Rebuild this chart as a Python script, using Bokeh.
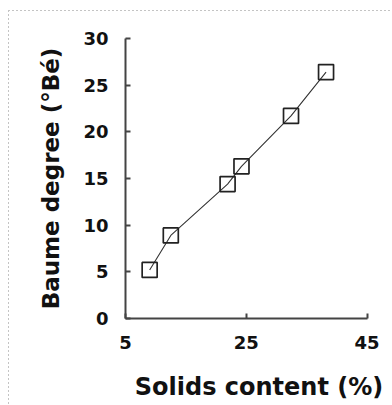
from bokeh.plotting import figure
from bokeh.models import FixedTicker, Range1d, InlineStyleSheet
from bokeh.embed import file_html
from bokeh.resources import INLINE

# Data
solids = [9.0, 12.5, 21.9, 24.2, 32.4, 38.2]      # Solids content (%)
baume = [5.2, 8.9, 14.4, 16.3, 21.7, 26.4]        # Baume degree (°Bé)
x_ticks = [5, 25, 45]
y_ticks = [0, 5, 10, 15, 20, 25, 30]

FONT = "DejaVu Sans"

css = InlineStyleSheet(css="""
:host::after {
  content: "";
  position: absolute;
  left: 8px; top: 10px; width: 384px; height: 395px;
  pointer-events: none;
  z-index: 100;
  background-image: linear-gradient(to right, #c4c4c4 2px, transparent 2px),
                    linear-gradient(to bottom, #c4c4c4 2px, transparent 2px);
  background-size: 4px 1px, 1px 4px;
  background-repeat: repeat-x, repeat-y;
  background-position: 0 0, 0 0;
}
""")

p = figure(width=392, height=405, output_backend="svg", toolbar_location=None,
           x_range=Range1d(5, 49.2), y_range=Range1d(0, 30),
           min_border_left=125, min_border_right=0,
           min_border_top=38, min_border_bottom=87)
p.stylesheets = [css]

p.outline_line_color = None
p.xgrid.visible = False
p.ygrid.visible = False

p.line(solids, baume, line_color="#333333", line_width=1.1)
p.scatter(solids, baume, marker="square", size=15, fill_color=None,
          line_color="#222222", line_width=1.7)

for ax in (p.xaxis[0], p.yaxis[0]):
    ax.axis_line_color = "#444444"
    ax.axis_line_width = 2
    ax.major_tick_line_color = "#444444"
    ax.major_tick_line_width = 2
    ax.major_tick_in = 5
    ax.major_tick_out = 0
    ax.minor_tick_line_color = None
    ax.major_label_text_font = FONT
    ax.major_label_text_font_style = "bold"
    ax.major_label_text_font_size = "18px"
    ax.major_label_text_color = "#111111"
    ax.axis_label_text_font = FONT
    ax.axis_label_text_font_style = "bold"
    ax.axis_label_text_color = "#111111"

p.xaxis.ticker = FixedTicker(ticks=x_ticks)
p.yaxis.ticker = FixedTicker(ticks=y_ticks)
p.xaxis.bounds = (5, 45)

p.xaxis.axis_label = "Solids content (%)"
p.xaxis.axis_label_text_font_size = "24px"
p.xaxis.major_label_standoff = 17
p.xaxis.axis_label_standoff = 21

p.yaxis.axis_label = "Baume degree (°Bé)"
p.yaxis.axis_label_text_font_size = "23px"
p.yaxis.major_label_standoff = 17
p.yaxis.axis_label_standoff = 16

open("out.html", "w").write(file_html(p, INLINE))
